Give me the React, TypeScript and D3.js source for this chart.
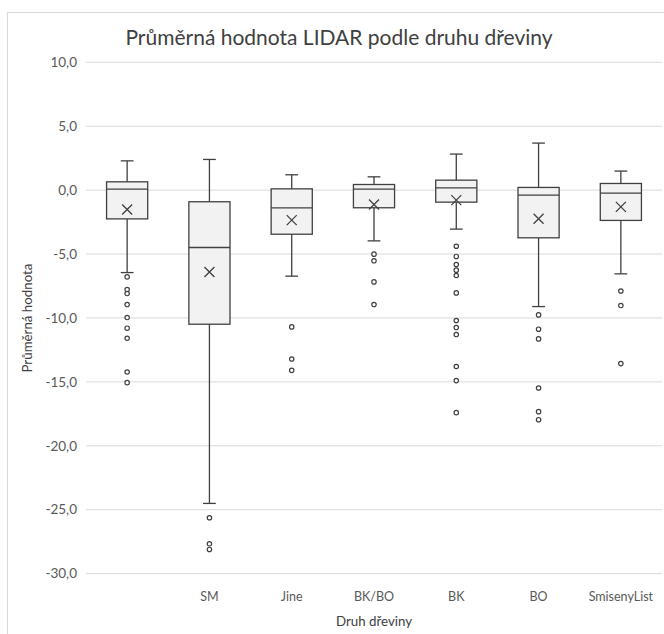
import React from 'react';
import * as d3 from 'd3';

const categories = ['', 'SM', 'Jine', 'BK/BO', 'BK', 'BO', 'SmisenyList'];
const whiskerHigh = [2.29, 2.4, 1.2, 1.04, 2.82, 3.68, 1.49];
const q3 = [0.65, -0.91, 0.1, 0.44, 0.78, 0.21, 0.52];
const median = [0.08, -4.49, -1.39, 0.08, 0.18, -0.39, -0.23];
const mean = [-1.51, -6.4, -2.35, -1.12, -0.78, -2.24, -1.31];
const q1 = [-2.25, -10.49, -3.45, -1.38, -0.94, -3.73, -2.37];
const whiskerLow = [-6.45, -24.51, -6.73, -3.97, -3.05, -9.11, -6.55];
const outliers = [
  [-6.79, -7.78, -8.09, -8.95, -9.97, -10.8, -11.59, -14.23, -15.06],
  [-25.63, -27.67, -28.11],
  [-10.7, -13.21, -14.1],
  [-5.01, -5.53, -7.18, -8.95],
  [-4.39, -5.19, -5.82, -6.26, -6.68, -8.04, -10.2, -10.75, -11.3, -13.8, -14.9, -17.41],
  [-9.76, -10.88, -11.64, -15.48, -17.33, -17.96],
  [-7.89, -9.03, -13.57],
];
const yTicks = [10, 5, 0, -5, -10, -15, -20, -25, -30];

const title = 'Průměrná hodnota LIDAR podle druhu dřeviny';
const xTitle = 'Druh dřeviny';
const yTitle = 'Průměrná hodnota';

const W = 664;
const H = 634;
const FONT = "Lato, 'Open Sans', sans-serif";

const locale = d3.formatLocale({
  decimal: ',',
  thousands: ' ',
  grouping: [3],
  currency: ['', ''],
  minus: '-',
});
const fmt = locale.format('.1f');

export default function App() {
  const x = d3.scaleBand<string>().domain(categories).range([86, 662]).paddingInner(0).paddingOuter(0);
  const y = d3.scaleLinear().domain([-30, 10]).range([573.6, 62.3]);
  const bw = x.bandwidth();
  const boxW = bw * 0.5;
  const capW = bw * 0.155;
  const stroke = '#404040';

  return (
    <svg width={W} height={H} style={{ position: 'absolute', left: 0, top: 0, background: '#fff' }} fontFamily={FONT}>
      <rect x={0} y={0} width={W} height={H} fill="#fff" />
      <rect x={7.5} y={12.5} width={W + 20} height={H + 20} fill="none" stroke="#d9d9d9" strokeWidth={1} />
      <text x={339} y={45} textAnchor="middle" fontSize={21} fill="#404040">{title}</text>
      {yTicks.map((t) => (
        <g key={t}>
          <line x1={86} x2={662} y1={y(t)} y2={y(t)} stroke="#d9d9d9" strokeWidth={1} />
          <text x={77} y={y(t)} dy="0.35em" textAnchor="end" fontSize={13.5} fill="#595959">{fmt(t)}</text>
        </g>
      ))}
      {categories.map((c, i) => {
        const cx = (x(c) as number) + bw / 2;
        return (
          <g key={'b' + i}>
            <line x1={cx} x2={cx} y1={y(whiskerHigh[i])} y2={y(q3[i])} stroke={stroke} strokeWidth={1.3} />
            <line x1={cx} x2={cx} y1={y(q1[i])} y2={y(whiskerLow[i])} stroke={stroke} strokeWidth={1.3} />
            <line x1={cx - capW / 2} x2={cx + capW / 2} y1={y(whiskerHigh[i])} y2={y(whiskerHigh[i])} stroke={stroke} strokeWidth={1.3} />
            <line x1={cx - capW / 2} x2={cx + capW / 2} y1={y(whiskerLow[i])} y2={y(whiskerLow[i])} stroke={stroke} strokeWidth={1.3} />
            <rect x={cx - boxW / 2} y={y(q3[i])} width={boxW} height={y(q1[i]) - y(q3[i])} fill="#f2f2f2" stroke={stroke} strokeWidth={1.3} />
            <line x1={cx - boxW / 2} x2={cx + boxW / 2} y1={y(median[i])} y2={y(median[i])} stroke={stroke} strokeWidth={1.3} />
            <path
              d={`M${cx - 5},${y(mean[i]) - 5}L${cx + 5},${y(mean[i]) + 5}M${cx - 5},${y(mean[i]) + 5}L${cx + 5},${y(mean[i]) - 5}`}
              stroke={stroke}
              strokeWidth={1.3}
              fill="none"
            />
            {outliers[i].map((o, j) => (
              <circle key={j} cx={cx} cy={y(o)} r={2.2} fill="#fff" stroke={stroke} strokeWidth={1.2} />
            ))}
            <text x={cx} y={597} dy="0.35em" textAnchor="middle" fontSize={12.5} fill="#595959">{c}</text>
          </g>
        );
      })}
      <text x={374} y={621} dy="0.35em" textAnchor="middle" fontSize={13.3} fill="#404040">{xTitle}</text>
      <text transform={`translate(27,318) rotate(-90)`} dy="0.35em" textAnchor="middle" fontSize={13.3} fill="#404040">{yTitle}</text>
    </svg>
  );
}
